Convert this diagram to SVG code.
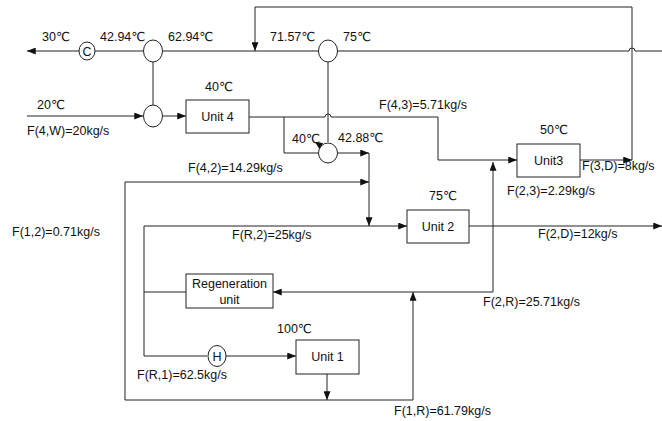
<svg xmlns="http://www.w3.org/2000/svg" width="662" height="421" viewBox="0 0 662 421">
<style>
.ln{fill:none;stroke:#222;stroke-width:1}
.bx{fill:#fff;stroke:#222;stroke-width:1}
.t{font-family:"Liberation Sans","DejaVu Sans",Arial,sans-serif;font-size:12.5px;fill:#111}
.c{text-anchor:middle}
</style>
<defs>
<marker id="ar" viewBox="0 0 10 8" refX="10" refY="4" markerWidth="10" markerHeight="7" markerUnits="userSpaceOnUse" orient="auto">
<path d="M0,0 L10,4 L0,8 Z" fill="#111"/>
</marker>
</defs>
<rect width="662" height="421" fill="#fff"/>
<g id="connectors">
<line class="ln" x1="79" y1="51" x2="27" y2="51" marker-end="url(#ar)"/>
<line class="ln" x1="143" y1="51" x2="95" y2="51"/>
<line class="ln" x1="163" y1="51" x2="318" y2="51"/>
<path class="ln" d="M338,51 H629 A3,3 0 0 1 635,51 H662"/>
<line class="ln" x1="580" y1="160" x2="632" y2="160" marker-end="url(#ar)"/>
<path class="ln" d="M632,160 V7 H255 V51" marker-end="url(#ar)"/>
<line class="ln" x1="153" y1="62" x2="153" y2="105"/>
<line class="ln" x1="27" y1="116" x2="143" y2="116" marker-end="url(#ar)"/>
<line class="ln" x1="163" y1="116" x2="186" y2="116" marker-end="url(#ar)"/>
<path class="ln" d="M249,117 H325 A3,3 0 0 1 331,117 H438 V160 H517" marker-end="url(#ar)"/>
<path class="ln" d="M284,117 V153 H319"/>
<path d="M315,142 L323,143 L320,150 Z" fill="#111"/>
<line class="ln" x1="328" y1="62" x2="328" y2="142"/>
<line class="ln" x1="338" y1="153" x2="369" y2="153" marker-end="url(#ar)"/>
<line class="ln" x1="369" y1="153" x2="369" y2="226" marker-end="url(#ar)"/>
<line class="ln" x1="327" y1="374" x2="327" y2="400" marker-end="url(#ar)"/>
<path class="ln" d="M327,400 H125 V182 H369" marker-end="url(#ar)"/>
<path class="ln" d="M327,400 H413 V292" marker-end="url(#ar)"/>
<path class="ln" d="M186,292 H144 V226 H407" marker-end="url(#ar)"/>
<path class="ln" d="M144,292 V356 H207"/>
<line class="ln" x1="226" y1="356" x2="296" y2="356" marker-end="url(#ar)"/>
<line class="ln" x1="469" y1="226" x2="662" y2="226" marker-end="url(#ar)"/>
<path class="ln" d="M493,226 V292 H273" marker-end="url(#ar)"/>
<line class="ln" x1="493" y1="226" x2="493" y2="162" marker-end="url(#ar)"/>
</g>
<g id="cooler"><ellipse class="bx" cx="87" cy="51" rx="8" ry="9"/><text class="t c" x="87" y="56">C</text></g>
<g id="mixer1"><ellipse class="bx" cx="153" cy="51" rx="9.5" ry="11"/></g>
<g id="mixer2"><ellipse class="bx" cx="328" cy="51" rx="9.5" ry="11"/></g>
<g id="mixer3"><ellipse class="bx" cx="153" cy="116" rx="9.5" ry="11"/></g>
<g id="mixer4"><ellipse class="bx" cx="328" cy="153" rx="9.5" ry="10"/></g>
<g id="heater"><ellipse class="bx" cx="217" cy="356" rx="9" ry="10.5"/><text class="t c" x="217" y="361">H</text></g>
<g id="unit4"><rect class="bx" x="186" y="100" width="63" height="33"/><text class="t c" x="217.5" y="121">Unit 4</text></g>
<g id="unit3"><rect class="bx" x="517" y="144" width="63" height="33"/><text class="t c" x="548.5" y="165">Unit3</text></g>
<g id="unit2"><rect class="bx" x="407" y="210" width="62" height="33"/><text class="t c" x="438" y="231">Unit 2</text></g>
<g id="regen"><rect class="bx" x="186" y="274" width="87" height="34"/><text class="t c" x="229.5" y="288">Regeneration</text><text class="t c" x="229.5" y="304">unit</text></g>
<g id="unit1"><rect class="bx" x="296" y="340" width="63" height="34"/><text class="t c" x="327.5" y="361">Unit 1</text></g>
<g id="labels">
<text class="t" x="42" y="41">30℃</text>
<text class="t" x="100" y="41">42.94℃</text>
<text class="t" x="168" y="41">62.94℃</text>
<text class="t" x="270" y="41">71.57℃</text>
<text class="t" x="343" y="41">75℃</text>
<text class="t" x="37" y="109">20℃</text>
<text class="t" x="27" y="135">F(4,W)=20kg/s</text>
<text class="t" x="205" y="91">40℃</text>
<text class="t" x="379" y="109">F(4,3)=5.71kg/s</text>
<text class="t" x="540" y="134">50℃</text>
<text class="t" x="292" y="143">40℃</text>
<text class="t" x="338" y="142">42.88℃</text>
<text class="t" x="188" y="172">F(4,2)=14.29kg/s</text>
<text class="t" x="12" y="236">F(1,2)=0.71kg/s</text>
<text class="t" x="232" y="239">F(R,2)=25kg/s</text>
<text class="t" x="429" y="200">75℃</text>
<text class="t" x="538" y="238">F(2,D)=12kg/s</text>
<text class="t" x="582" y="170">F(3,D)=8kg/s</text>
<text class="t" x="507" y="195">F(2,3)=2.29kg/s</text>
<text class="t" x="483" y="306">F(2,R)=25.71kg/s</text>
<text class="t" x="277" y="333">100℃</text>
<text class="t" x="137" y="379">F(R,1)=62.5kg/s</text>
<text class="t" x="394" y="415">F(1,R)=61.79kg/s</text>
</g>
</svg>
